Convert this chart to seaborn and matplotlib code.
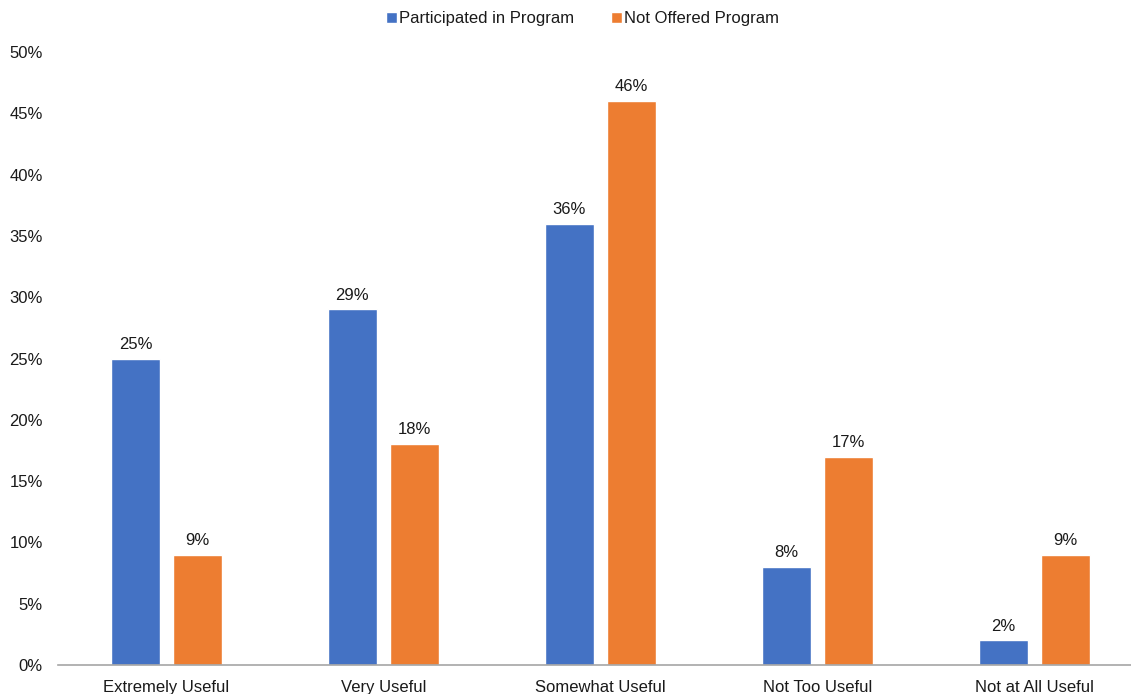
import matplotlib
matplotlib.use("Agg")
import matplotlib.pyplot as plt
import seaborn as sns
import pandas as pd
from matplotlib.patches import Patch

categories = ["Extremely Useful", "Very Useful", "Somewhat Useful", "Not Too Useful", "Not at All Useful"]
series_names = ["Participated in Program", "Not Offered Program"]
participated = [25, 29, 36, 8, 2]
not_offered = [9, 18, 46, 17, 9]
y_ticks = [0, 5, 10, 15, 20, 25, 30, 35, 40, 45, 50]
colors = ["#4472C4", "#ED7D31"]

sns.set_theme(style="white")
plt.rcParams['font.family'] = ['Liberation Sans', 'DejaVu Sans']

df = pd.DataFrame({
    "category": categories * 2,
    "series": [series_names[0]] * len(categories) + [series_names[1]] * len(categories),
    "value": participated + not_offered,
})

FS = 12
TXT = "#1a1a1a"
W, H = 1131, 694
fig = plt.figure(figsize=(W / 100, H / 100), dpi=100)
ax = fig.add_axes([58 / W, 29 / H, (W - 58) / W, (665 - 52) / H])

sns.barplot(data=df, x="category", y="value", hue="series", order=categories,
            hue_order=series_names, palette=colors, width=0.572, gap=0.21,
            ax=ax, legend=False, saturation=1)

for cont in ax.containers:
    ax.bar_label(cont, labels=[f"{v:.0f}%" for v in cont.datavalues], padding=5,
                 fontsize=FS, color=TXT)

ax.set_ylim(0, 50)
ax.set_xlim(-0.5, 4.447)
ax.set_yticks(y_ticks)
ax.set_yticklabels([f"{t}%" for t in y_ticks], fontsize=FS, color=TXT)
ax.tick_params(axis="x", labelsize=FS, labelcolor=TXT, pad=10.5, length=0)
ax.tick_params(axis="y", pad=11, length=0)
ax.set_xlabel("")
ax.set_ylabel("")
for s in ["top", "right", "left"]:
    ax.spines[s].set_visible(False)
ax.spines["bottom"].set_color("#A6A6A6")
ax.spines["bottom"].set_linewidth(1.2)

handles = [Patch(facecolor=c, label=n) for c, n in zip(colors, series_names)]
leg = fig.legend(handles=handles, loc="center", bbox_to_anchor=(0.515, 1 - 19 / H), ncol=2,
                 frameon=False, fontsize=FS, handlelength=0.65, handleheight=0.65,
                 handletextpad=0.15, columnspacing=2.2)
for t in leg.get_texts():
    t.set_color(TXT)

fig.savefig("out.png", dpi=100)
